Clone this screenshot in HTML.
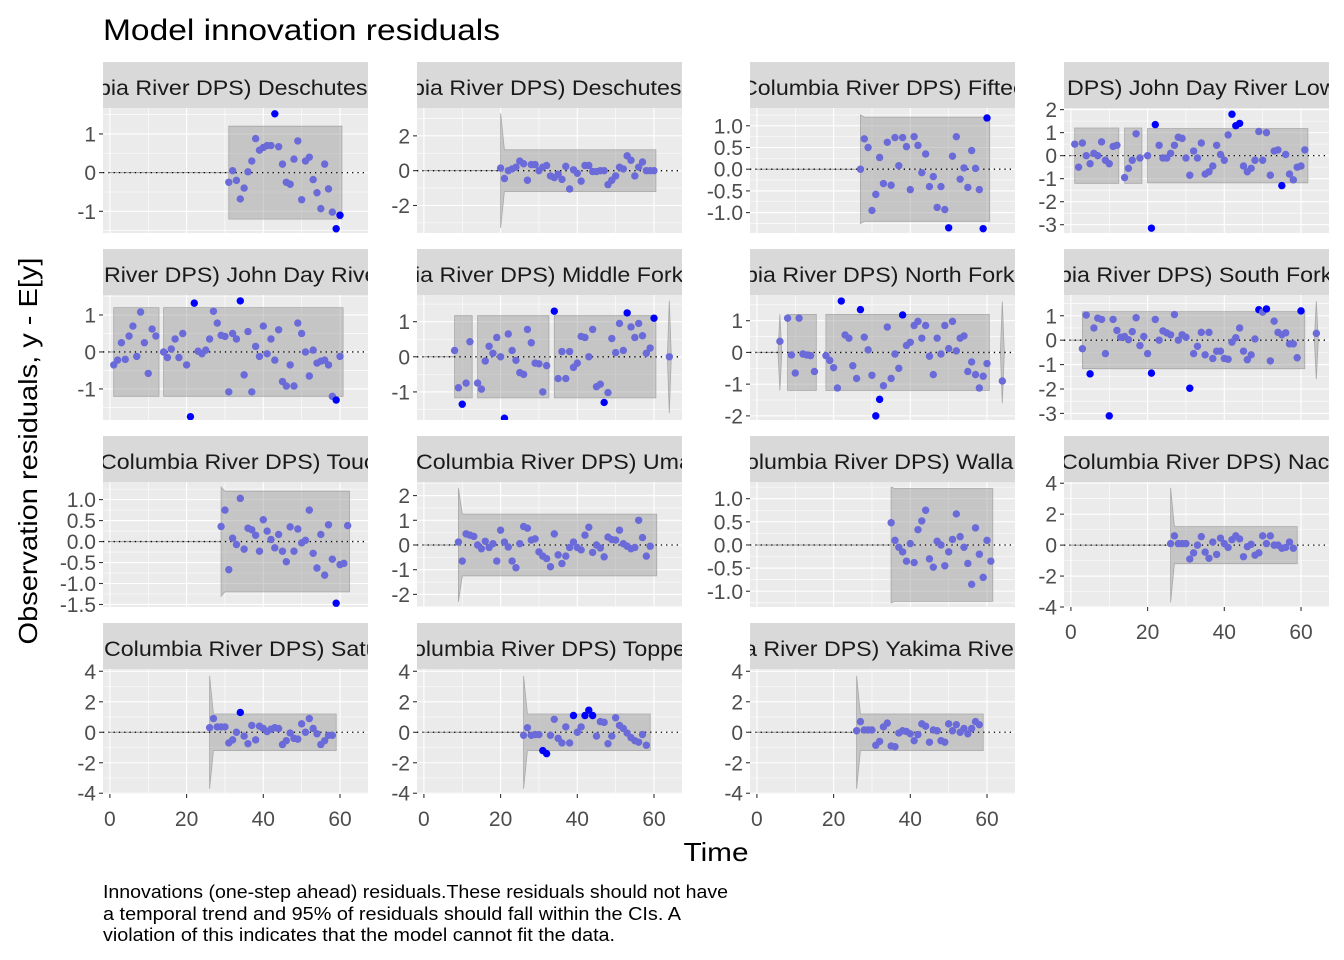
<!DOCTYPE html>
<html><head><meta charset="utf-8"><style>
html,body{margin:0;padding:0;background:#fff;}
svg{display:block;font-family:"Liberation Sans",Arial,sans-serif;}
</style></head><body>
<svg id="chart" width="1344" height="960" viewBox="0 0 1344 960" xmlns="http://www.w3.org/2000/svg">
<rect width="1344" height="960" fill="#fff"/>
<text x="103" y="40" font-size="30" fill="#000" textLength="397" lengthAdjust="spacingAndGlyphs">Model innovation residuals</text>
<text transform="translate(37,451) rotate(-90)" text-anchor="middle" font-size="26" fill="#000" textLength="387" lengthAdjust="spacingAndGlyphs">Observation residuals, y - E[y]</text>
<text x="716" y="861" text-anchor="middle" font-size="26" fill="#000" textLength="65" lengthAdjust="spacingAndGlyphs">Time</text>
<g font-size="18" fill="#000">
<text x="103" y="898" textLength="625" lengthAdjust="spacingAndGlyphs">Innovations (one-step ahead) residuals.These residuals should not have</text>
<text x="103" y="920" textLength="578" lengthAdjust="spacingAndGlyphs">a temporal trend and 95% of residuals should fall within the CIs. A</text>
<text x="103" y="941" textLength="512" lengthAdjust="spacingAndGlyphs">violation of this indicates that the model cannot fit the data.</text>
</g>
<g id="panels"></g>
</svg>
<script>
// ---- data ----
const p1Values = [-0.25,0.05,-0.2,-0.68,-0.4,0.02,0.3,0.88,0.58,0.65,0.7,0.7,1.52,0.67,0.22,-0.25,-0.3,0.35,0.82,-0.7,0.3,0.4,-0.18,-0.52,-0.93,0.22,-0.42,-1.02,-1.45,-1.1];
const p2Values = [0.15,-0.45,0.0,0.1,0.2,0.55,0.4,-0.55,0.35,0.35,0.0,0.2,0.3,-0.3,-0.4,-0.2,-0.5,0.25,-1.05,0.05,-0.15,-0.6,0.3,0.3,-0.05,-0.05,0.0,0.0,-0.8,-0.55,-0.3,0.2,0.1,0.85,0.6,-0.3,0.2,0.5,0.0,0.0,0.0];
const p3Values = [0.0,0.7,0.5,-0.95,-0.58,0.27,-0.33,0.62,-0.37,0.73,0.08,0.73,0.52,-0.47,0.75,0.55,-0.08,0.35,-0.4,-0.17,-0.88,-0.4,-0.93,-1.35,0.3,0.75,-0.23,0.03,-0.42,0.43,0.02,-0.47,-1.37,1.18];
const p4Values = [0.5,-0.5,0.55,0.0,-0.35,0.1,0.0,0.6,-0.2,-0.35,0.4,0.45,null,-0.95,-0.55,-0.2,0.95,-0.1,null,
 0.0,-3.15,1.35,0.45,-0.1,-0.1,0.1,0.45,0.8,0.75,-0.1,-0.85,0.2,-0.1,0.55,-0.8,-0.7,-0.45,0.45,0.05,-0.2,0.9,1.8,1.3,1.4,-0.45,-0.7,-0.55,-0.2,1.05,-0.2,1.0,-0.85,0.2,0.25,-1.3,0.05,-0.8,-1.05,-0.5,-0.45,0.25];
const p5Values = [-0.35,-0.22,0.25,-0.2,0.43,0.7,-0.12,1.08,0.25,-0.58,0.62,0.43,null,
 0.0,-0.15,0.08,0.35,-0.15,0.5,-0.35,-1.75,1.32,0.02,-0.05,0.05,0.35,1.1,0.78,0.45,0.42,-1.08,0.5,0.35,1.38,-0.62,0.55,-1.08,0.15,-0.12,0.7,-0.05,0.35,-0.22,0.6,-0.8,-0.92,-0.35,-0.92,0.78,0.5,0.0,-0.65,0.05,-0.3,-0.25,-0.22,-0.35,-1.2,-1.3,-0.12];
const p6Values = [0.18,-0.88,-1.35,-0.75,0.43,null,
 -0.75,-0.92,-0.12,0.3,0.1,0.55,0.0,-1.75,0.65,0.18,-0.1,-0.45,-0.5,0.78,0.4,-0.18,-0.2,-1.0,-0.25,null,
 1.3,-0.62,0.15,-0.62,0.15,-0.3,-0.18,0.58,0.55,0.0,0.78,-0.85,-0.78,-1.3,-1.02,0.52,0.12,0.95,0.18,1.25,0.85,0.55,0.95,0.6,0.1,0.25,1.1,null,null,null,0.0];
const p7Values = [0.35,null,1.08,-0.08,-0.65,1.08,-0.05,-0.08,-0.1,-0.6,null,null,
 -0.1,-0.25,-0.48,-1.12,1.62,0.55,0.45,-0.42,-0.82,1.35,0.48,0.08,-0.72,-2.0,-1.48,-1.05,0.8,-0.82,-0.05,-0.5,1.18,0.22,0.32,0.85,0.98,0.45,0.85,-0.12,-0.7,0.45,-0.05,0.85,0.12,0.98,0.05,0.45,0.52,-0.6,-0.3,-0.7,-1.12,-0.75,-0.35,null,null,null,-0.9];
const p8Values = [-0.35,1.03,-1.38,0.5,0.9,0.85,-0.55,-3.1,0.85,0.4,0.12,0.15,0.02,0.35,0.92,-0.22,0.15,-0.55,-1.35,0.85,0.0,0.38,0.3,0.22,1.05,0.0,0.22,0.12,-1.97,-0.55,-0.25,0.32,-0.6,0.32,-0.75,-0.45,-0.45,-0.75,-0.78,-0.08,0.1,0.5,-0.45,-0.8,-0.6,0.05,1.25,1.15,1.28,-0.85,0.78,0.32,0.22,0.3,-0.15,-0.15,-0.72,1.2,null,null,null,0.28];
const p9Values = [0.36,0.75,-0.67,0.08,-0.07,1.03,-0.18,0.32,0.28,0.15,-0.23,0.52,0.25,0.05,-0.15,0.17,-0.23,-0.48,0.35,-0.23,0.3,-0.03,0.03,0.75,-0.28,-0.63,0.17,-0.8,0.4,-0.42,-1.47,-0.55,-0.52,0.38];
const p10Values = [0.12,-0.65,0.45,0.4,0.35,0.0,-0.15,0.15,-0.1,0.05,-0.65,0.6,0.12,-0.08,-0.65,-0.92,0.05,0.75,0.68,0.2,0.25,-0.28,-0.45,-0.55,-0.88,0.45,-0.4,-0.75,-0.45,-0.1,0.12,-0.1,-0.2,0.4,0.72,-0.3,0.0,-0.12,-0.48,0.32,0.22,0.2,0.6,0.05,-0.05,-0.15,-0.1,1.0,0.3,-0.45,-0.05];
const p11Values = [0.48,0.1,-0.05,-0.15,-0.35,0.03,-0.38,0.33,0.52,0.75,-0.3,-0.48,0.08,0.0,-0.45,-0.15,0.12,0.67,0.18,-0.05,-0.4,-0.85,0.37,-0.2,-0.7,0.1,-0.35];
const p12Values = [0.1,0.6,0.1,0.1,0.1,-0.9,-0.5,0.0,0.55,-0.45,-0.85,0.2,-0.6,0.45,0.1,-0.15,0.35,0.6,0.4,-0.75,-0.1,0.05,-0.65,-0.5,0.6,0.1,0.6,0.0,0.0,-0.2,-0.15,0.2,-0.2];
const p13Values = [0.3,0.9,0.35,0.35,0.35,-0.7,-0.5,0.0,1.3,-0.25,-0.75,0.45,-0.5,0.4,0.25,0.05,0.2,0.3,0.25,-0.8,-0.55,-0.05,-0.4,-0.45,0.55,0.0,0.9,0.25,-0.1,-0.8,-0.55,-0.2,-0.2];
const p14Values = [-0.2,0.3,-0.2,-0.15,-0.15,-1.2,-1.4,-0.2,0.85,-0.4,-0.7,0.35,-0.7,1.1,0.0,0.35,1.1,1.45,1.1,-0.25,0.7,0.65,-0.75,-0.25,0.95,0.45,0.25,-0.05,-0.35,-0.55,-0.65,-0.15,-0.85];
const p15Values = [0.1,0.7,0.15,0.15,0.15,-0.85,-0.6,0.35,0.6,-0.9,-0.95,-0.05,0.1,0.05,-0.1,-0.55,-0.15,0.55,0.4,-0.65,0.15,0.1,-0.55,-0.65,0.55,0.1,0.5,0.0,0.25,-0.1,0.25,0.7,0.5];
// bands: [start, end, half-width, start flare]
const p1Bands=[[31,60.5,1.2,1.2]], p2Bands=[[20,60.5,1.2,3.3]], p3Bands=[[27,60.7,1.2,1.25]],
 p4Bands=[[1,12.5,1.2,1.2],[14,18.5,1.2,1.2],[20,61.8,1.18,1.18]],
 p5Bands=[[1,12.8,1.2,1.2],[14,60.8,1.2,1.2]],
 p6Bands=[[8,12.6,1.17,1.17],[14,32.6,1.17,1.17],[34,60.5,1.17,1.17],[64,64,1.6,1.6]],
 p7Bands=[[6,6,1.2,1.2],[8,15.5,1.2,1.2],[18,60.6,1.2,1.2],[64,64,1.6,1.6]],
 p8Bands=[[3,61,1.17,1.17],[64,64,1.6,1.6]],
 p9Bands=[[29,62.5,1.2,1.3]], p10Bands=[[9,60.7,1.25,2.3]], p11Bands=[[35,61.5,1.22,1.25]],
 p12Bands=[[26,59,1.2,3.7]], p13Bands=[[26,59,1.2,3.7]], p14Bands=[[26,59,1.2,3.7]], p15Bands=[[26,59,1.2,3.7]];
const tick3=[-2,0,2], tickHalf=[-1,-0.5,0,0.5,1], tick4=[-4,-2,0,2,4];
const xTicks=[0,20,40,60];

const panels=[
 {title:"bia River DPS) Deschutes Eastside",tx:-5,col:0,row:0,start:31,values:p1Values,bands:p1Bands,y:[-1.56,1.67],ticks:[-1,0,1],thr:1.05},
 {title:"bia River DPS) Deschutes Westside",tx:-5,col:1,row:0,start:20,values:p2Values,bands:p2Bands,y:[-3.58,3.6],ticks:tick3,thr:2},
 {title:"Columbia River DPS) Fifteenmile",tx:-9,col:2,row:0,start:27,values:p3Values,bands:p3Bands,y:[-1.47,1.41],ticks:tickHalf,thr:1.1,dec:1},
 {title:"DPS) John Day River Lower Mainstem",tx:3,col:3,row:0,start:1,values:p4Values,bands:p4Bands,y:[-3.36,2.07],ticks:[-3,-2,-1,0,1,2],thr:1.2},
 {title:"River DPS) John Day River",tx:1,col:0,row:1,start:1,values:p5Values,bands:p5Bands,y:[-1.84,1.54],ticks:[-1,0,1],thr:1.25},
 {title:"ia River DPS) Middle Fork John Day",tx:-2,col:1,row:1,start:8,values:p6Values,bands:p6Bands,y:[-1.8,1.76],ticks:[-1,0,1],thr:1.05},
 {title:"bia River DPS) North Fork John Day",tx:-5,col:2,row:1,start:6,values:p7Values,bands:p7Bands,y:[-2.13,1.81],ticks:[-2,-1,0,1],thr:1.15},
 {title:"bia River DPS) South Fork John Day",tx:-5,col:3,row:1,start:3,values:p8Values,bands:p8Bands,y:[-3.27,1.85],ticks:[-3,-2,-1,0,1],thr:1.15},
 {title:"Columbia River DPS) Touchet",tx:-3,col:0,row:2,start:29,values:p9Values,bands:p9Bands,y:[-1.56,1.42],ticks:[-1.5,-1,-0.5,0,0.5,1],thr:1.25,dec:1},
 {title:"Columbia River DPS) Umatilla",tx:-1,col:1,row:2,start:9,values:p10Values,bands:p10Bands,y:[-2.51,2.55],ticks:[-2,-1,0,1,2],thr:1.3},
 {title:"olumbia River DPS) Walla Walla",tx:-4,col:2,row:2,start:35,values:p11Values,bands:p11Bands,y:[-1.34,1.36],ticks:tickHalf,thr:1.3,dec:1},
 {title:"Columbia River DPS) Naches",tx:-3,col:3,row:2,start:26,values:p12Values,bands:p12Bands,y:[-4.0,4.08],ticks:tick4,thr:1.3,xaxis:true},
 {title:"Columbia River DPS) Satus",tx:1,col:0,row:3,start:26,values:p13Values,bands:p13Bands,y:[-4.05,4.15],ticks:tick4,thr:1.25,xaxis:true},
 {title:"olumbia River DPS) Toppenish",tx:-4,col:1,row:3,start:26,values:p14Values,bands:p14Bands,y:[-4.05,4.15],ticks:tick4,thr:1.05,xaxis:true},
 {title:"a River DPS) Yakima River",tx:-6,col:2,row:3,start:26,values:p15Values,bands:p15Bands,y:[-4.05,4.15],ticks:tick4,thr:1.3,xaxis:true}
];

const NS="http://www.w3.org/2000/svg";
const colLeft=[103,417,750,1064], rowTop=[62,249,436,623], PW=265, STRIP=46, PH=125;
const xDom=[-1.8,67.3];
function mk(tag,attrs,parent){const e=document.createElementNS(NS,tag);for(const k in attrs)e.setAttribute(k,attrs[k]);parent.appendChild(e);return e;}
const root=document.getElementById('panels');
const defs=mk('defs',{},root);

panels.forEach((p,i)=>{
 const L=colLeft[p.col], T=rowTop[p.row], top=T+STRIP, bot=top+PH;
 const xs=t=>L+(t-xDom[0])/(xDom[1]-xDom[0])*PW;
 const ys=v=>bot-(v-p.y[0])/(p.y[1]-p.y[0])*PH;
 const g=mk('g',{},root);
 
 
 const cp=mk('clipPath',{id:'clip'+i},defs);
 mk('rect',{x:L,y:T,width:PW,height:STRIP},cp);
 const strip=mk('rect',{x:L,y:T,width:PW,height:STRIP,fill:'#D9D9D9'},g);
 
 
 const sg=mk('g',{'clip-path':'url(#clip'+i+')'},g);
 const st=mk('text',{transform:'translate('+(L+p.tx)+','+(T+33)+') scale(1.08,1)','font-size':21.5,fill:'#1A1A1A'},sg);
 st.textContent=p.title;
 
 
 const bg=mk('rect',{x:L,y:top,width:PW,height:PH,fill:'#EBEBEB'},g);
 
 
 const cpp=mk('clipPath',{id:'pclip'+i},defs);
 mk('rect',{x:L,y:top,width:PW,height:PH},cpp);
 const pg=mk('g',{'clip-path':'url(#pclip'+i+')'},g);
 const step=p.ticks[1]-p.ticks[0];
 for(let v=p.ticks[0]-step/2; v<=p.y[1]; v+=step){ if(v>=p.y[0]) mk('line',{x1:L,x2:L+PW,y1:ys(v),y2:ys(v),stroke:'#fff','stroke-width':0.55},pg);}
 [10,30,50].forEach(t=>mk('line',{x1:xs(t),x2:xs(t),y1:top,y2:bot,stroke:'#fff','stroke-width':0.55},pg));
 p.ticks.forEach(v=>mk('line',{x1:L,x2:L+PW,y1:ys(v),y2:ys(v),stroke:'#fff','stroke-width':1.1},pg));
 xTicks.forEach(t=>mk('line',{x1:xs(t),x2:xs(t),y1:top,y2:bot,stroke:'#fff','stroke-width':1.1},pg));
 const first=p.bands[0][0];
 mk('line',{x1:xs(0),x2:xs(first),y1:ys(0),y2:ys(0),stroke:'#999','stroke-width':1},pg);
 p.bands.forEach(b=>{
  const [s,e,h,f]=b; let pts;
  if(s===e){ pts=[[s-0.5,0],[s,f],[s+0.5,0],[s,-f]]; }
  else { pts=[[s,f],[s+1,h],[e,h],[e,-h],[s+1,-h],[s,-f]]; }
  const poly=mk('polygon',{points:pts.map(q=>xs(q[0]).toFixed(1)+','+ys(q[1]).toFixed(1)).join(' '),fill:'rgba(150,150,150,0.45)',stroke:'#A8A8A8','stroke-width':0.8},pg);
  
  
 });
 const zl=mk('line',{x1:L,x2:L+PW,y1:ys(0),y2:ys(0),stroke:'#000','stroke-width':1.3,'stroke-dasharray':'1.3,4'},pg);
 
 
 p.values.forEach((v,k)=>{
  if(v===null) return;
  const out=Math.abs(v)>p.thr;
  const c=mk('circle',{cx:xs(p.start+k),cy:ys(v),r:3.7,fill:out?'#0000FF':'#6A6AD8'},pg);
  
  
 });
 p.ticks.forEach(v=>{
  mk('line',{x1:L-4,x2:L,y1:ys(v),y2:ys(v),stroke:'#333','stroke-width':1.1},g);
  const tl=mk('text',{x:L-7,y:ys(v)+7.5,'text-anchor':'end','font-size':21,fill:'#4D4D4D'},g);
  tl.textContent=p.dec?v.toFixed(1):String(v);
  
  
 });
 if(p.xaxis){
  xTicks.forEach(t=>{
   mk('line',{x1:xs(t),x2:xs(t),y1:bot,y2:bot+4,stroke:'#333','stroke-width':1.1},g);
   const xl=mk('text',{x:xs(t),y:bot+32,'text-anchor':'middle','font-size':21,fill:'#4D4D4D'},g);
   xl.textContent=String(t);
   
   
  });
 }
});
</script>
</body></html>
